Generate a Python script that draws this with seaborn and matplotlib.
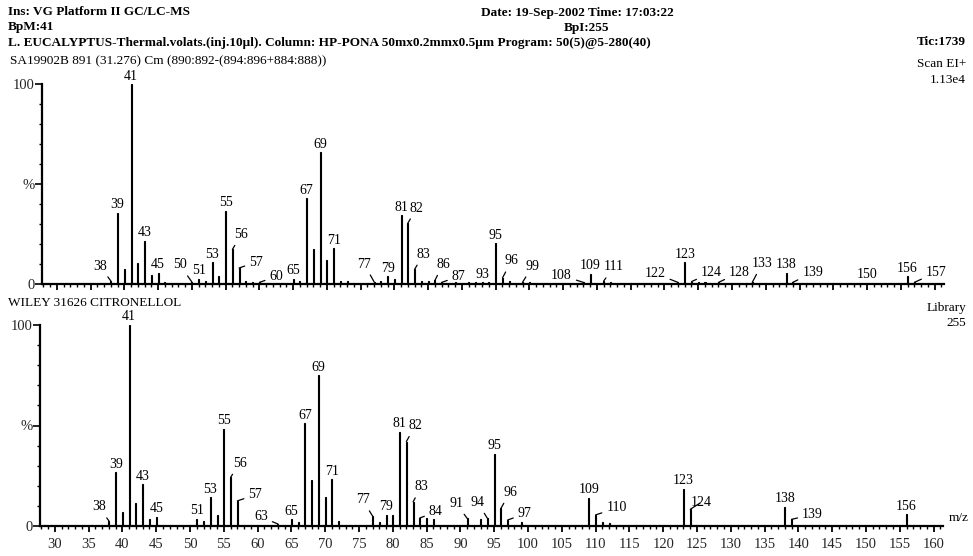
import matplotlib
matplotlib.use("Agg")
import matplotlib.pyplot as plt
from matplotlib.ticker import MultipleLocator, FixedLocator, NullFormatter
import pandas as pd
import seaborn as sns

# ---------------- data ----------------
scan_mz = [38, 39, 40, 41, 42, 43, 44, 45, 46, 50, 51, 52, 53, 54, 55, 56, 57, 58, 59, 60,
           65, 66, 67, 68, 69, 70, 71, 72, 73, 74, 77, 78, 79, 80, 81, 82, 83, 84, 85, 86,
           87, 89, 91, 92, 93, 94, 95, 96, 97, 99, 100, 108, 109, 111, 112, 115, 122, 123,
           124, 125, 126, 128, 133, 135, 138, 139, 145, 150, 156, 157]
scan_int = [1.5, 35.5, 7.7, 100, 10.3, 21.5, 4.7, 5.5, 1.2, 1.0, 2.7, 1.5, 11, 3.9, 36.7, 17.3, 8, 1.5, 1.0, 0.8,
            2.7, 1.5, 43, 17.5, 65.8, 12, 17.8, 1.3, 1.3, 0.6, 1.0, 1.3, 3.9, 2.7, 34.3, 30.5, 7.4, 1.5, 1.5, 1.8,
            0.8, 0.8, 0.8, 1.2, 1.0, 1.0, 20.4, 3.0, 1.3, 1.0, 0.8, 0.8, 5.2, 1.5, 0.8, 0.6, 0.8, 11,
            1.2, 1.0, 1.0, 0.8, 0.8, 0.6, 5.6, 0.8, 0.6, 0.6, 3.9, 0.8]
scan_labels = [38, 39, 41, 43, 45, 50, 51, 53, 55, 56, 57, 60, 65, 67, 69, 71, 77, 79, 81, 82,
               83, 86, 87, 93, 95, 96, 99, 108, 109, 111, 122, 123, 124, 128, 133, 138, 139,
               150, 156, 157]

lib_mz = [38, 39, 40, 41, 42, 43, 44, 45, 51, 52, 53, 54, 55, 56, 57, 63, 65, 66, 67, 68,
          69, 70, 71, 72, 77, 78, 79, 80, 81, 82, 83, 84, 85, 86, 91, 93, 94, 95, 96, 97,
          99, 109, 110, 111, 112, 123, 124, 138, 139, 156]
lib_int = [2.5, 26.7, 7.2, 100, 11.2, 20.8, 3.3, 4.5, 3.7, 2.5, 14.2, 5.5, 48.3, 24.2, 12.5, 1.0, 3.3, 2.0, 51.2, 22.8,
           75, 14.2, 23.3, 2.5, 5.0, 2.2, 5.5, 5.5, 47, 42, 12, 4.0, 3.8, 3.5, 3.8, 3.3, 3.8, 36, 8.8, 3.0,
           2.2, 14, 5.5, 2.2, 1.7, 18.5, 8.3, 9.7, 3.3, 5.8]
lib_labels = [38, 39, 41, 43, 45, 51, 53, 55, 56, 57, 63, 65, 67, 69, 71, 77, 79, 81, 82, 83,
              84, 91, 94, 95, 96, 97, 109, 110, 123, 124, 138, 139, 156]

x_ticks = list(range(30, 161, 5))
y_tick_values = [0, 50, 100]
y_tick_labels = ["0", "%", "100"]

header_left = ["Ins: VG Platform II GC/LC-MS", "BpM:41",
               "L. EUCALYPTUS-Thermal.volats.(inj.10\u00b5l). Column: HP-PONA 50mx0.2mmx0.5\u00b5m Program: 50(5)@5-280(40)"]
header_sample = "SA19902B 891 (31.276) Cm (890:892-(894:896+884:888))"
header_date = "Date: 19-Sep-2002 Time: 17:03:22"
header_bpi = "BpI:255"
header_tic = "Tic:1739"
scan_info = ["Scan EI+", "1.13e4"]
lib_title = "WILEY 31626 CITRONELLOL"
lib_info = ["Library", "255"]
x_unit = "m/z"

# ---------------- label placement (pixels: dx, up) ----------------
scan_offsets = {38: (-11, 15), 50: (-12, 17), 56: (9, 15), 57: (17, 6), 60: (17, 6),
                77: (-10, 18), 82: (9, 15), 83: (9, 15), 86: (8, 16), 87: (17, 6),
                96: (9, 17), 99: (10, 16), 108: (-22, 7), 111: (10, 14), 122: (-23, 9),
                124: (20, 9), 128: (21, 10), 133: (10, 19), 139: (20, 10), 157: (22, 10)}
lib_offsets = {38: (-10, 14), 56: (9, 14), 57: (18, 6), 63: (-17, 7), 77: (-10, 16),
               82: (9, 16), 83: (8, 15), 84: (16, 6), 91: (-11, 15), 94: (-10, 16),
               96: (9, 16), 97: (17, 6), 110: (21, 7), 124: (11, 7), 139: (21, 5)}

# ---------------- figure ----------------
sns.set_theme(style="ticks")
plt.rcParams["font.family"] = ["Liberation Serif", "DejaVu Serif"]
plt.rcParams["axes.linewidth"] = 1.6

W, H = 973, 556
fig = plt.figure(figsize=(W / 100, H / 100), dpi=100)


def px_axes(left, top, right, bottom):
    return fig.add_axes([left / W, 1 - bottom / H, (right - left) / W, (bottom - top) / H])


ax1 = px_axes(42, 84, 944, 284)
ax2 = px_axes(40, 325, 943, 526)

XLIM = (27.8, 161.4)
LABEL_FS = 10
TICK_FS = 10.5


def draw(ax, mz, inten, labels, offsets, show_xlabels):
    df = pd.DataFrame({"mz": mz, "intensity": inten})
    sns.barplot(data=df, x="mz", y="intensity", native_scale=True, width=0.15,
                color="black", edgecolor="black", linewidth=0.8, errorbar=None, ax=ax)
    ax.set_xlim(*XLIM)
    ax.set_ylim(0, 100)
    ax.set_xlabel("")
    ax.set_ylabel("")
    for s in ("top", "right"):
        ax.spines[s].set_visible(False)
    ax.spines["left"].set_color("black")
    ax.spines["bottom"].set_color("black")
    ax.xaxis.set_major_locator(FixedLocator(x_ticks))
    ax.xaxis.set_minor_locator(MultipleLocator(1))
    ax.yaxis.set_major_locator(FixedLocator(y_tick_values))
    ax.set_yticklabels(y_tick_labels)
    ax.yaxis.set_minor_locator(MultipleLocator(10))
    ax.tick_params(axis="x", which="major", direction="out", length=4, width=1.3, color="black",
                   labelsize=TICK_FS, pad=5)
    ax.tick_params(axis="x", which="minor", direction="out", length=2, width=1.0, color="black")
    ax.tick_params(axis="y", which="major", direction="out", length=5, width=1.2, color="black",
                   labelsize=TICK_FS, pad=0)
    ax.tick_params(axis="y", which="minor", direction="out", length=2.5, width=1.0, color="black")
    if show_xlabels:
        ax.set_xticklabels([str(t) for t in x_ticks])
    else:
        ax.xaxis.set_major_formatter(NullFormatter())
    ax.set_facecolor("white")
    lookup = dict(zip(mz, inten))
    for m in labels:
        y = lookup[m]
        dx, up = offsets.get(m, (0, 8))
        kw = dict(xy=(m, y), xytext=(dx, up), textcoords="offset pixels",
                  ha="center", va="center", fontsize=LABEL_FS, color="black",
                  annotation_clip=False)
        if m in offsets:
            kw["arrowprops"] = dict(arrowstyle="-", lw=0.9, color="black", shrinkA=1, shrinkB=0)
        ax.annotate(str(m), **kw)


draw(ax1, scan_mz, scan_int, scan_labels, scan_offsets, False)
draw(ax2, lib_mz, lib_int, lib_labels, lib_offsets, True)


def ftext(x, y, s, **kw):
    fig.text(x / W, 1 - y / H, s, va="center", color="black", **kw)


HFS = 9.5
ftext(8, 12, header_left[0], ha="left", fontsize=HFS, fontweight="bold")
ftext(8, 27, header_left[1], ha="left", fontsize=HFS, fontweight="bold")
ftext(8, 43, header_left[2], ha="left", fontsize=HFS, fontweight="bold")
ftext(10, 61, header_sample, ha="left", fontsize=HFS)
ftext(577, 13, header_date, ha="center", fontsize=HFS, fontweight="bold")
ftext(587, 28, header_bpi, ha="center", fontsize=HFS, fontweight="bold")
ftext(966, 42, header_tic, ha="right", fontsize=HFS, fontweight="bold")
ftext(966, 64, scan_info[0], ha="right", fontsize=HFS)
ftext(966, 80, scan_info[1], ha="right", fontsize=HFS)
ftext(8, 303, lib_title, ha="left", fontsize=HFS)
ftext(966, 308, lib_info[0], ha="right", fontsize=HFS)
ftext(966, 323, lib_info[1], ha="right", fontsize=HFS)
ftext(949, 518, x_unit, ha="left", fontsize=HFS)

fig.savefig("out.png", dpi=100, facecolor="white")
